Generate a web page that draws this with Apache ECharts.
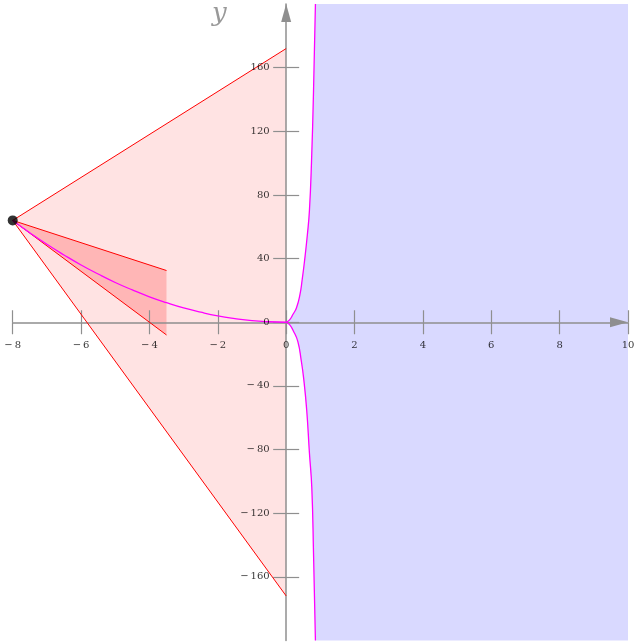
<!DOCTYPE html>
<html lang="en">
<head>
    <meta charset="UTF-8">
    <title>Region plot</title>
    <script src="https://cdn.jsdelivr.net/npm/echarts@6/dist/echarts.min.js"></script>
    <style>html,body{margin:0;padding:0;background:#fff;}</style>
</head>
<body>
<div id="main" style="width: 636px;height:643px;"></div>
<script>
    // tick values
    var xTicks = [-8, -6, -4, -2, 0, 2, 4, 6, 8, 10];
    var yTicks = [-160, -120, -80, -40, 0, 40, 80, 120, 160];

    // magenta curve, left branch
    var leftX = [-8, -7.5, -7, -6.5, -6, -5.5, -5, -4.5, -4, -3.5, -3, -2.5, -2, -1.5, -1, -0.5, 0];
    var leftY = [64, 56.3, 49, 42.3, 36, 30.3, 25, 20.3, 16, 12.3, 9, 6.3, 4, 2.3, 1, 0.3, 0];

    // magenta curve, right branches
    var upX = [0, 0.1, 0.2, 0.3, 0.4, 0.47, 0.54, 0.62, 0.68, 0.74, 0.8, 0.856];
    var upY = [0, 1.5, 5, 9, 17, 27, 39, 55, 70, 100, 145, 200];
    var downX = [0, 0.1, 0.2, 0.34, 0.44, 0.51, 0.6, 0.68, 0.75, 0.8, 0.856];
    var downY = [0, -1.5, -5, -12, -24, -35, -55, -82, -104, -145, -200];

    // cone from the black point
    var apex = [-8, 64];
    var outerTop = [0, 172];
    var outerBottom = [0, -172];
    var innerTop = [-3.5, 32.5];
    var innerBottom = [-3.5, -8];
    var xMax = 10;
    var yMin = -200, yMax = 200;

    function zip(xs, ys) {
        var out = [];
        for (var i = 0; i < xs.length; i++) out.push([xs[i], ys[i]]);
        return out;
    }

    function polygon(points, color, z) {
        return {
            type: 'custom',
            z: z,
            silent: true,
            data: [[0, 0]],
            renderItem: function (params, api) {
                var pts = points.map(function (p) { return api.coord(p); });
                return {
                    type: 'polygon',
                    shape: {points: pts},
                    style: {fill: color, stroke: null}
                };
            }
        };
    }

    function segment(a, b, color) {
        return {
            type: 'line',
            z: 4,
            data: [a, b],
            showSymbol: false,
            silent: true,
            lineStyle: {color: color, width: 1}
        };
    }

    // blue region right of the curve
    var bluePts = zip(upX, upY).reverse().concat(zip(downX, downY).slice(1));
    bluePts.push([xMax, yMin], [xMax, yMax]);

    var fmt = function (v) {
        return v < 0 ? '\u2212\u2009' + (-v) : String(v);
    };

    var axisGray = '#8f8f8f';
    var labelFont = {fontFamily: 'DejaVu Serif', fontSize: 10, color: '#000'};

    // tick labels placed with the axis scales, sitting next to the crossing axes
    function tickLabels(points, position, distance) {
        return {
            type: 'scatter', z: 7, silent: true, symbolSize: 1,
            data: points,
            itemStyle: {color: 'rgba(0,0,0,0)'},
            label: Object.assign({
                show: true, position: position, distance: distance,
                formatter: function (p) {
                    return fmt(position === 'bottom' ? p.value[0] : p.value[1]);
                }
            }, labelFont),
            labelLayout: {hideOverlap: false}
        };
    }

    var myChart = echarts.init(document.getElementById('main'));
    var option = {
        animation: false,
        grid: {left: 12.7, right: 8, top: 4, bottom: 2.5, containLabel: false, outerBoundsMode: 'none'},
        xAxis: [
            {
                type: 'value', min: -8, max: 10, interval: 2, z: 3,
                position: 'bottom',
                axisLine: {onZero: true, lineStyle: {color: axisGray, width: 1.5},
                    symbol: ['none', 'triangle'], symbolSize: [10, 18], symbolOffset: [0, -9]},
                axisTick: {show: true, length: 12, customValues: xTicks, lineStyle: {color: axisGray, width: 1.2}},
                axisLabel: {show: false},
                splitLine: {show: false}
            },
            {
                type: 'value', min: -8, max: 10, interval: 2, z: 3,
                position: 'bottom',
                axisLine: {onZero: true, show: false},
                axisTick: {show: true, inside: true, length: 12, customValues: xTicks, lineStyle: {color: axisGray, width: 1.2}},
                axisLabel: {show: false},
                splitLine: {show: false}
            }
        ],
        yAxis: [
            {
                type: 'value', min: yMin, max: yMax, interval: 40, z: 3,
                position: 'left',
                axisLine: {onZero: true, lineStyle: {color: axisGray, width: 1.5},
                    symbol: ['none', 'triangle'], symbolSize: [10, 18], symbolOffset: [0, -9]},
                axisTick: {show: true, length: 13, customValues: yTicks, lineStyle: {color: axisGray, width: 1.2}},
                axisLabel: {show: false},
                splitLine: {show: false}
            },
            {
                type: 'value', min: yMin, max: yMax, interval: 40, z: 3,
                position: 'left',
                axisLine: {onZero: true, show: false},
                axisTick: {show: true, inside: true, length: 13, customValues: yTicks, lineStyle: {color: axisGray, width: 1.2}},
                axisLabel: {show: false},
                splitLine: {show: false}
            }
        ],
        graphic: [
            {type: 'text', left: 212, top: 1, style: {text: 'y', fill: '#999', font: 'italic 26px "DejaVu Serif"'}},
            {type: 'text', left: 611, top: 347, style: {text: 'x', fill: '#999', font: 'italic 26px "DejaVu Serif"'}}
        ],
        series: [
            polygon(bluePts, '#d9d9ff', 1),
            polygon([apex, outerTop, outerBottom], 'rgba(255,0,0,0.11)', 1),
            polygon([apex, innerTop, innerBottom], 'rgba(255,0,0,0.2)', 1),
            segment(apex, outerTop, '#ff0000'),
            segment(apex, outerBottom, '#ff0000'),
            segment(apex, innerTop, '#ff0000'),
            segment(apex, innerBottom, '#ff0000'),
            {
                type: 'line', z: 5, data: zip(leftX, leftY), smooth: true, showSymbol: false, silent: true,
                lineStyle: {color: '#ff00ff', width: 1.3}
            },
            {
                type: 'line', z: 5, data: zip(upX, upY), smooth: true, showSymbol: false, silent: true,
                lineStyle: {color: '#ff00ff', width: 1.3}
            },
            {
                type: 'line', z: 5, data: zip(downX, downY), smooth: true, showSymbol: false, silent: true,
                lineStyle: {color: '#ff00ff', width: 1.3}
            },
            {
                type: 'scatter', z: 6, data: [apex], symbolSize: 10, silent: true,
                itemStyle: {color: '#000'}
            },
            tickLabels(xTicks.map(function (v) { return [v, 0]; }), 'bottom', 18),
            tickLabels(yTicks.map(function (v) { return [0, v]; }), 'left', 16)
        ]
    };
    myChart.setOption(option);
</script>
</body>
</html>
